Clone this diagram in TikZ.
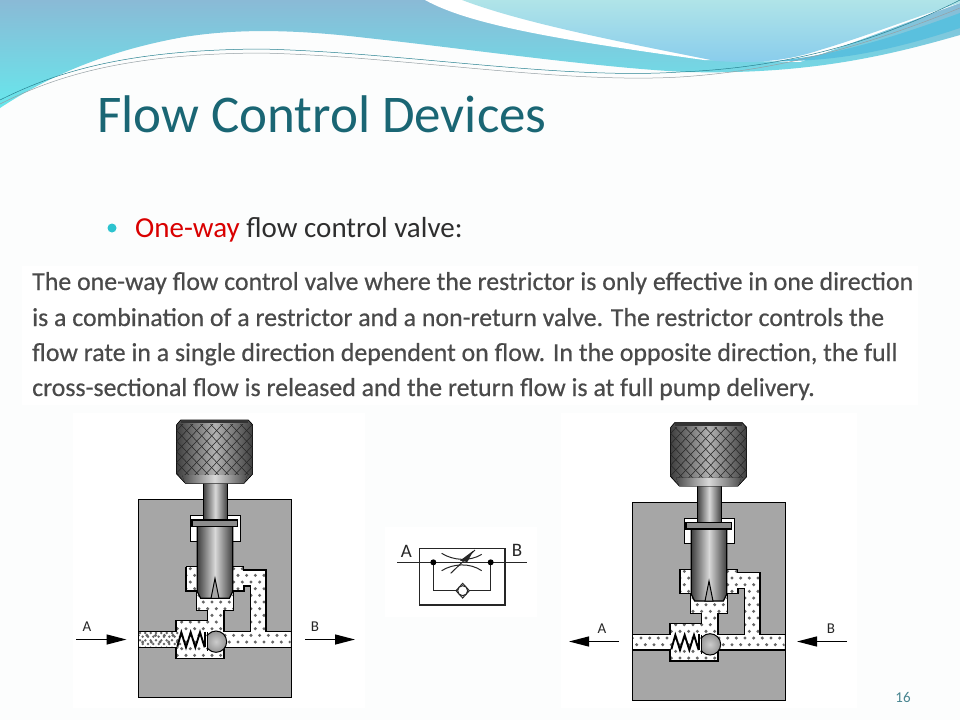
\documentclass[tikz,border=0pt]{standalone}
\usepackage{fontspec}
\setmainfont{Carlito}
\newfontfamily\bodyfont[FakeBold=0.5]{Carlito}
\usetikzlibrary{arrows.meta}
\definecolor{pagebg}{HTML}{FCFDFD}
\definecolor{titlecol}{HTML}{1A6674}
\definecolor{bodycol}{HTML}{2E2E2E}
\definecolor{bodygrey}{HTML}{4A4A4A}
\definecolor{bulletcol}{HTML}{2CC3CF}
\definecolor{valvegrey}{HTML}{A6A6A6}
\definecolor{skyA}{RGB}{138,186,214}
\definecolor{skyB}{RGB}{103,231,236}
\definecolor{paleA}{RGB}{176,228,232}
\definecolor{paleB}{RGB}{136,204,236}
\definecolor{bandcol}{RGB}{90,192,222}
\definecolor{wireA}{RGB}{40,130,145}
\definecolor{wireB}{RGB}{150,160,165}
\tikzset{
  zoomed/.style={x=0.33333pt,y=-0.33333pt},
  steelshade/.style={left color=black!75,right color=black!75,middle color=black!15},
  flowline/.style={draw=black,line width=1.1pt,line join=miter},
  flowarrow/.style={line width=1.3pt,-{Triangle[length=20pt,width=10pt]}},
  lab/.style={font=\fontsize{15}{15}\selectfont,text=black!85,inner sep=0pt},
  sym/.style={draw=black!85,line width=1pt},
  bodyline/.style={anchor=base west,inner sep=0pt,text=bodygrey,font=\bodyfont\fontsize{25.85}{26}\selectfont}
}
% #3: extra dots in the inlet pipe (0 or 1)
\newcommand{\valvedraw}[3]{%
\begin{scope}[shift={(#1pt,-#2pt)},zoomed]
  \fill[valvegrey] (205,268) rectangle (665,862);
  \draw[black,line width=1pt] (205,268) rectangle (665,862);
  \filldraw[fill=white,draw=black,line width=1pt] (360,317) -- (512,317) -- (512,393) -- (488,393) -- (488,349) -- (382,349) -- (382,393) -- (360,393) -- cycle;
  \begin{scope}
    \path[clip] (348,470) -- (520,470) -- (520,480) -- (588,480) -- (588,665) -- (662,665) -- (662,712) -- (462,712) -- (462,745) -- (318,745) -- (318,712) -- (207,712) -- (207,665) -- (318,665) -- (318,632) -- (412,632) -- (412,602) -- (380,602) -- (380,543) -- (348,543) -- cycle;
    \fill[white] (200,460) rectangle (670,750);
    \foreach \r in {0,...,14}{
      \pgfmathsetmacro{\yy}{476+\r*20}
      \pgfmathsetmacro{\off}{mod(\r,2)*13}
      \foreach \c in {0,...,18}{
        \fill[black!60] ({205+\c*26+\off},\yy) circle[radius=5];
      }
    }
    \ifnum#3=1
      \foreach \r in {0,...,4}{
        \pgfmathsetmacro{\yy}{669+\r*11}
        \pgfmathsetmacro{\off}{mod(\r,2)*8}
        \foreach \c in {0,...,7}{
          \fill[black!60] ({210+\c*16+\off},\yy) circle[radius=4.2];
        }
      }
    \fi
  \end{scope}
  \draw[flowline] (348,470) -- (520,470) -- (520,480) -- (588,480) -- (588,665) -- (665,665);
  \draw[flowline] (665,712) -- (462,712) -- (462,745) -- (318,745) -- (318,712) -- (205,712);
  \draw[flowline] (205,665) -- (318,665) -- (318,632) -- (412,632) -- (412,602) -- (380,602) -- (380,543) -- (348,543) -- (348,470);
  \filldraw[fill=valvegrey,flowline] (462,665) -- (542,665) -- (542,528) -- (522,528) -- (522,543) -- (490,543) -- (490,602) -- (462,602) -- cycle;
  \filldraw[steelshade,draw=black,line width=1.2pt] (400,215) rectangle (472,330);
  \filldraw[steelshade,draw=black,line width=1.2pt] (382,349) -- (488,349) -- (488,545) -- (478,565) -- (392,565) -- (382,545) -- cycle;
  \filldraw[fill=black!45,draw=black,line width=1.2pt] (366,330) rectangle (502,349);
  \filldraw[fill=black!35,draw=black,line width=1pt] (423,565) -- (435,505) -- (447,565) -- cycle;
  \filldraw[left color=black!75,right color=black!75,middle color=black!30,draw=black,line width=.6pt] (332,30) -- (535,30) -- (548,44) -- (548,192) -- (522,220) -- (346,220) -- (320,192) -- (320,44) -- cycle;
  \begin{scope}
    \clip (320,44) rectangle (548,194);
    \foreach \k in {-10,...,20}{
      \draw[black!85,line width=.55pt] ({200+\k*30},30) -- ({200+\k*30+170},210);
      \draw[black!85,line width=.55pt] ({680-\k*30},30) -- ({680-\k*30-170},210);
    }
  \end{scope}
  \fill[left color=black!70,right color=black!70,middle color=black!15] (336,195) -- (532,195) -- (522,220) -- (346,220) -- cycle;
  \fill[black!80] (332,30) rectangle (535,40);
  \draw[black,line width=1.9pt,line join=miter] (322,710) -- (334,667) -- (348,712) -- (362,667) -- (376,712) -- (390,667) -- (404,712);
  \draw[black,line width=1.6pt] (405,665) -- (405,712);
  \begin{scope}
    \clip (411,650) rectangle (480,740);
    \shade[inner color=black!20,outer color=black!42] (438,695) circle[radius=32];
    \draw[black,line width=1pt] (438,695) circle[radius=32];
  \end{scope}
  \draw[black,line width=1pt] (411,666) -- (411,724);
\end{scope}}
\begin{document}
\begin{tikzpicture}[x=1pt,y=-1pt]
\useasboundingbox (0,0) rectangle (960,720);
\fill[pagebg] (0,0) rectangle (960,720);
\shade[top color=skyA,bottom color=skyB]
  (0,0) -- (960,0) -- (960,35) .. controls (890,55) and (810,75) .. (686,72)
  .. controls (600,68) and (460,48) .. (367,38)
  .. controls (300,30) and (240,28) .. (184,37)
  .. controls (110,50) and (50,75) .. (0,108) -- cycle;
\fill[white] (425,0) .. controls (470,25) and (560,40) .. (704,60) -- (800,62) -- (960,3) -- (960,0) -- cycle;
\shade[top color=paleA,bottom color=paleB]
  (462,0) .. controls (520,22) and (610,40) .. (716,61)
  .. controls (760,64) and (790,60) .. (820,50)
  .. controls (870,35) and (920,15) .. (960,3) -- (960,0) -- cycle;
\fill[bandcol] (775,61) .. controls (840,55) and (900,35) .. (960,13) -- (960,28) .. controls (900,48) and (840,62) .. (775,61) -- cycle;
\draw[wireA,line width=.5pt] (0,100) .. controls (60,70) and (130,50) .. (260,49) .. controls (400,52) and (560,80) .. (680,72) .. controls (780,68) and (870,45) .. (960,0);
\draw[wireB,line width=.5pt] (0,104) .. controls (60,74) and (130,54) .. (260,53) .. controls (400,56) and (560,84) .. (680,77) .. controls (790,70) and (880,40) .. (960,8);
\node[anchor=west,inner sep=0pt,text=titlecol,font=\fontsize{53}{53}\selectfont] (title) at (97,114) {Flow Control Devices};
\fill[bulletcol] (112,228) circle[radius=4.5];
\node[anchor=west,inner sep=0pt,font=\fontsize{29}{29}\selectfont,text=bodycol] (bullet) at (135,229.5) {\textcolor{red!85!black}{One-way} flow control valve:};
\fill[white] (22,266) rectangle (918,405);
\node[bodyline] (l1) at (32,290) {The one-way flow control valve where the restrictor is only effective in one direction};
\node[bodyline] (l2) at (32,326) {is a combination of a restrictor and a non-return valve. The restrictor controls the};
\node[bodyline] (l3) at (32,361) {flow rate in a single direction dependent on flow. In the opposite direction, the full};
\node[bodyline] (l4) at (32,396) {cross-sectional flow is released and the return flow is at full pump delivery.};
\fill[white] (73,413) rectangle (365,708);
\fill[white] (561,413) rectangle (857,708);
\fill[white] (385,527) rectangle (537,617);
\valvedraw{70}{410}{1}
\valvedraw{564}{412.7}{0}
\coordinate (la1) at (76,639.5); \coordinate (la2) at (126.5,639.5);
\coordinate (lb1) at (305,639.5); \coordinate (lb2) at (355,639.5);
\draw[flowarrow] (la1) -- (la2);
\draw[flowarrow] (lb1) -- (lb2);
\node[lab] (la) at (87,627) {A};
\node[lab] (lb) at (315,627) {B};
\coordinate (ra1) at (619,641.5); \coordinate (ra2) at (569,641.5);
\coordinate (rb1) at (847,641.5); \coordinate (rb2) at (797,641.5);
\draw[flowarrow] (ra1) -- (ra2);
\draw[flowarrow] (rb1) -- (rb2);
\node[lab] (ra) at (602,629) {A};
\node[lab] (rb) at (831,629) {B};
\begin{scope}[shift={(380pt,-520pt)},zoomed]
  \draw[sym,line width=1.2pt] (118,85) rectangle (375,255);
  \draw[sym] (52,127) -- (440,127);
  \draw[sym] (160,127) -- (160,212) -- (228,212);
  \draw[sym] (268,212) -- (332,212) -- (332,127);
  \fill[black] (160,127) circle[radius=9];
  \fill[black] (332,127) circle[radius=9];
  \draw[sym] (228,212) -- (248,190) -- (268,212) -- (248,234) -- cycle;
  \fill[white] (248,212) circle[radius=15];
  \draw[sym] (248,212) circle[radius=15];
  \draw[sym] (185,100) .. controls (220,122) and (270,125) .. (305,103);
  \draw[sym] (185,152) .. controls (220,130) and (270,128) .. (305,152);
  \draw[sym] (212,160) -- (285,90);
  \fill[black!85] (240,122) -- (280,92) -- (262,126) -- cycle;
  \node[lab,font=\fontsize{19}{19}\selectfont] (sa) at (79,94) {A};
  \node[lab,font=\fontsize{19}{19}\selectfont] (sb) at (411,92) {B};
\end{scope}
\node[inner sep=0pt,text=titlecol!80,font=\fontsize{15}{15}\selectfont] (page) at (903,697) {16};
\end{tikzpicture}
\end{document}
